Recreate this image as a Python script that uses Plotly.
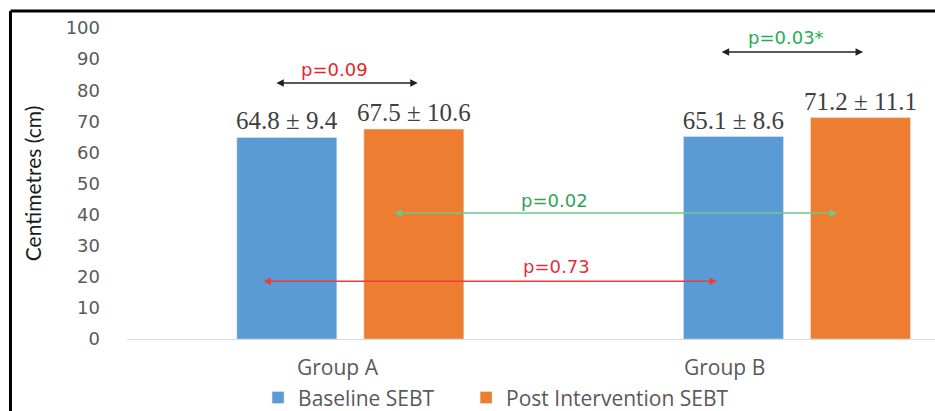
import plotly.graph_objects as go

# ---- data ----
groups = ["Group A", "Group B"]
baseline_mean = [64.8, 65.1]
baseline_sd = [9.4, 8.6]
post_mean = [67.5, 71.2]
post_sd = [10.6, 11.1]
series_names = ["Baseline SEBT", "Post Intervention SEBT"]
y_ticks = [0, 10, 20, 30, 40, 50, 60, 70, 80, 90, 100]

# comparisons: (label, text colour, arrow colour, x0, x1, arrow y, text x, text y)
comparisons = [
    ("p=0.09", "#e8262a", "#222222", -0.169, 0.151, 82.3, -0.035, 86.6),
    ("p=0.03*", "#1fae55", "#222222", 0.828, 1.148, 92.3, 0.975, 96.9),
    ("p=0.02", "#2fa35a", "#6cc98a", 0.095, 1.090, 40.5, 0.458, 44.6),
    ("p=0.73", "#e0303a", "#ee3b3b", -0.198, 0.821, 18.6, 0.462, 23.4),
]
group_label_x = [-0.028, 0.837]

BLUE = "#5b9bd5"
ORANGE = "#ed7d31"
GREY = "#595959"

fig = go.Figure()
fig.add_trace(go.Bar(
    x=groups, y=baseline_mean, name=series_names[0], marker_color=BLUE,
    text=[f"{m} ± {s}" for m, s in zip(baseline_mean, baseline_sd)],
    textposition="outside", cliponaxis=False, constraintext="none",
    textfont=dict(family="Liberation Serif", size=25, color="#404040"),
    legend="legend",
))
fig.add_trace(go.Bar(
    x=groups, y=post_mean, name=series_names[1], marker_color=ORANGE,
    text=[f"{m} ± {s}" for m, s in zip(post_mean, post_sd)],
    textposition="outside", cliponaxis=False, constraintext="none",
    textfont=dict(family="Liberation Serif", size=25, color="#404040"),
    legend="legend2",
))

annotations = []
for label, tcol, acol, x0, x1, ya, tx, ty in comparisons:
    annotations.append(dict(
        x=x1, y=ya, ax=x0, ay=ya, xref="x", yref="y", axref="x", ayref="y",
        text="", showarrow=True, arrowhead=2, arrowside="end+start",
        arrowsize=1, arrowwidth=1.5, arrowcolor=acol, startarrowhead=2,
    ))
    annotations.append(dict(
        x=tx, y=ty, xref="x", yref="y", text=label, showarrow=False,
        font=dict(family="DejaVu Sans", size=18, color=tcol),
    ))
for g, gx in zip(groups, group_label_x):
    annotations.append(dict(
        x=gx, y=-0.09, xref="x", yref="paper", text=g, showarrow=False,
        font=dict(family="Open Sans", size=21, color=GREY), yanchor="middle",
    ))

shapes = [
    dict(type="line", xref="paper", yref="paper", x0=-0.1442, x1=1.01,
         y0=1.0547, y1=1.0547, line=dict(color="black", width=3)),
    dict(type="line", xref="paper", yref="paper", x0=-0.1442, x1=-0.1442,
         y0=1.0547, y1=-0.26, line=dict(color="black", width=3)),
]

legend_style = dict(orientation="h", xref="container", yref="container",
                    xanchor="left", y=0.032, yanchor="middle",
                    font=dict(family="Open Sans", size=21, color=GREY),
                    bgcolor="rgba(0,0,0,0)")

fig.update_layout(
    width=935, height=411,
    margin=dict(l=127, r=0, t=28, b=72, autoexpand=False),
    paper_bgcolor="white", plot_bgcolor="white",
    barmode="group", bargap=0.4313, bargroupgap=0.2125,
    showlegend=True,
    legend=dict(x=0.276, **legend_style),
    legend2=dict(x=0.4985, **legend_style),
    annotations=annotations, shapes=shapes,
    xaxis=dict(range=[-0.5, 1.309], showticklabels=False, showgrid=False,
               showline=True, linecolor="#d9d9d9", linewidth=1, zeroline=False,
               fixedrange=True, automargin=False),
    yaxis=dict(range=[0, 100], tickvals=y_ticks, showgrid=False, zeroline=False,
               showline=False, ticklabelstandoff=26, automargin=False,
               tickfont=dict(family="DejaVu Sans", size=18, color=GREY),
               title=dict(text="Centimetres (cm)", standoff=18,
                          font=dict(family="Lato", size=21, color="#1a1a1a"))),
)

fig.write_html("out.html", config={"displayModeBar": False},
               post_script="document.body.style.margin='0';")
